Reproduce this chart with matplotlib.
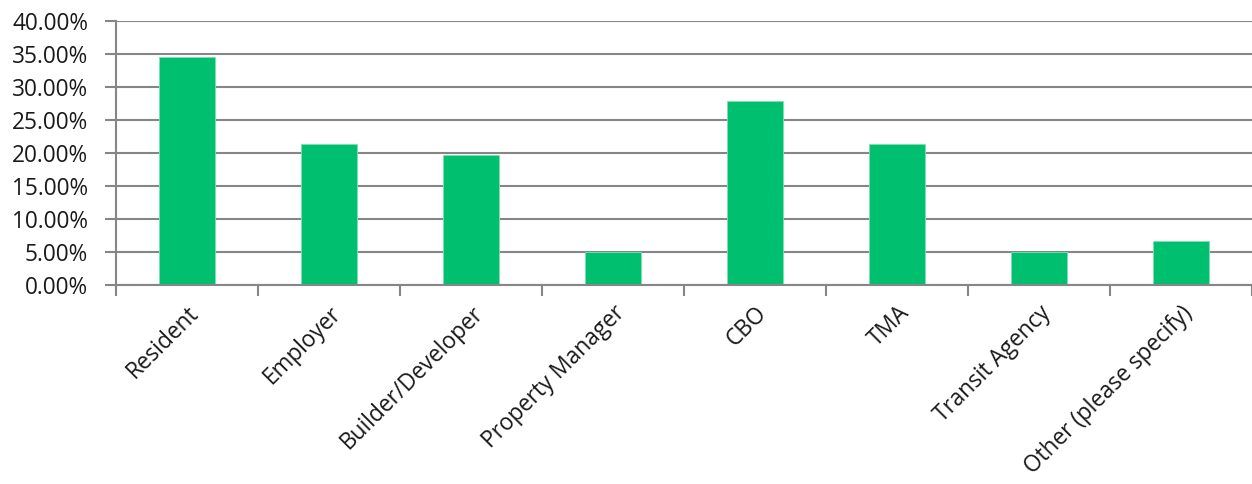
import matplotlib
matplotlib.use("Agg")
import matplotlib.pyplot as plt
from matplotlib.ticker import FuncFormatter, MultipleLocator

categories = ["Resident", "Employer", "Builder/Developer", "Property Manager",
              "CBO", "TMA", "Transit Agency", "Other (please specify)"]
shares = [34.43, 21.31, 19.67, 4.92, 27.87, 21.31, 4.92, 6.56]

plt.rcParams["font.family"] = ["Open Sans", "DejaVu Sans"]

fig = plt.figure(figsize=(12.52, 4.84), dpi=100)
ax = fig.add_axes([116 / 1252, (484 - 284.7) / 484, 1 - 116 / 1252, (284.7 - 20.7) / 484])

grid_color = "#868686"
bar_color = "#00BF6F"
text_color = "#1a1a1a"

x = list(range(len(categories)))
ax.bar(x, shares, width=0.4, color=bar_color, edgecolor="#7fdfb7", linewidth=0.6, zorder=3)

ax.set_xlim(-0.5, len(categories) - 0.5)
ax.set_ylim(0, 40)
ax.yaxis.set_major_locator(MultipleLocator(5))
ax.yaxis.set_major_formatter(FuncFormatter(lambda v, p: f"{v:.2f}%"))
ax.grid(axis="y", color=grid_color, linewidth=1.5, zorder=0)

# ticks sit between categories on the x axis
ax.set_xticks([i - 0.5 for i in range(len(categories) + 1)])
ax.set_xticklabels([])
ax.set_xticks(x, minor=True)
ax.set_xticklabels(categories, minor=True, rotation=45, ha="right",
                   rotation_mode="anchor", fontsize=16.3, color=text_color)
ax.tick_params(axis="x", which="minor", length=0, pad=12)
ax.tick_params(axis="x", which="major", length=8, width=1.5, color=grid_color)
ax.tick_params(axis="y", length=8, width=1.5, color=grid_color, labelsize=16.3,
               labelcolor=text_color, pad=12)

for side in ("top", "right"):
    ax.spines[side].set_visible(False)
for side in ("left", "bottom"):
    ax.spines[side].set_color(grid_color)
    ax.spines[side].set_linewidth(1.5)
    ax.spines[side].set_zorder(4)

fig.savefig("out.png", dpi=100, facecolor="white")
